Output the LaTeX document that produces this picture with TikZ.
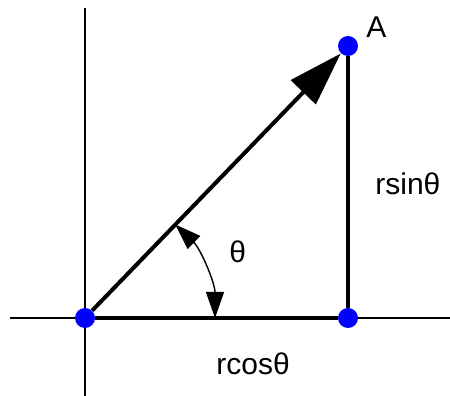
\documentclass[tikz,border=0pt]{standalone}
\usepackage{fontspec}
\setmainfont{Liberation Sans}
\usetikzlibrary{arrows.meta}
\begin{document}
\begin{tikzpicture}[x=0.5pt, y=0.5pt, font=\fontsize{15}{18}\selectfont,
  dot/.style={circle, fill=blue, inner sep=0pt, minimum size=10pt},
  lbl/.style={anchor=base west, inner sep=0pt}]
  \useasboundingbox (0,0) rectangle (450,396);
  \coordinate (xl) at (10,78);
  \coordinate (xr) at (450,78);
  \coordinate (yb) at (85,0);
  \coordinate (yt) at (85,388);
  \draw[line width=0.9pt] (xl) -- (xr);
  \draw[line width=0.9pt] (yb) -- (yt);
  \node[dot] (O) at (85,78) {};
  \node[dot] (B) at (348,78) {};
  \node[dot] (A) at (348,350) {};
  \draw[line width=2pt] (O) -- (B) -- (A);
  \draw[line width=2pt, -{Triangle[length=27pt, width=17pt]}] (O) -- (A);
  \draw[line width=0.7pt, {Triangle[length=13pt, width=9pt]}-{Triangle[length=13pt, width=9pt]}]
    ([shift={(0:130)}]O.center) arc[start angle=0, end angle=46, radius=130];
  \node[lbl] (a) at (366,358) {A};
  \node[lbl] (sin) at (375,201) {rsinθ};
  \node[lbl] (cos) at (216,21) {rcosθ};
  \node[lbl] (th) at (229,133) {θ};
\end{tikzpicture}
\end{document}
